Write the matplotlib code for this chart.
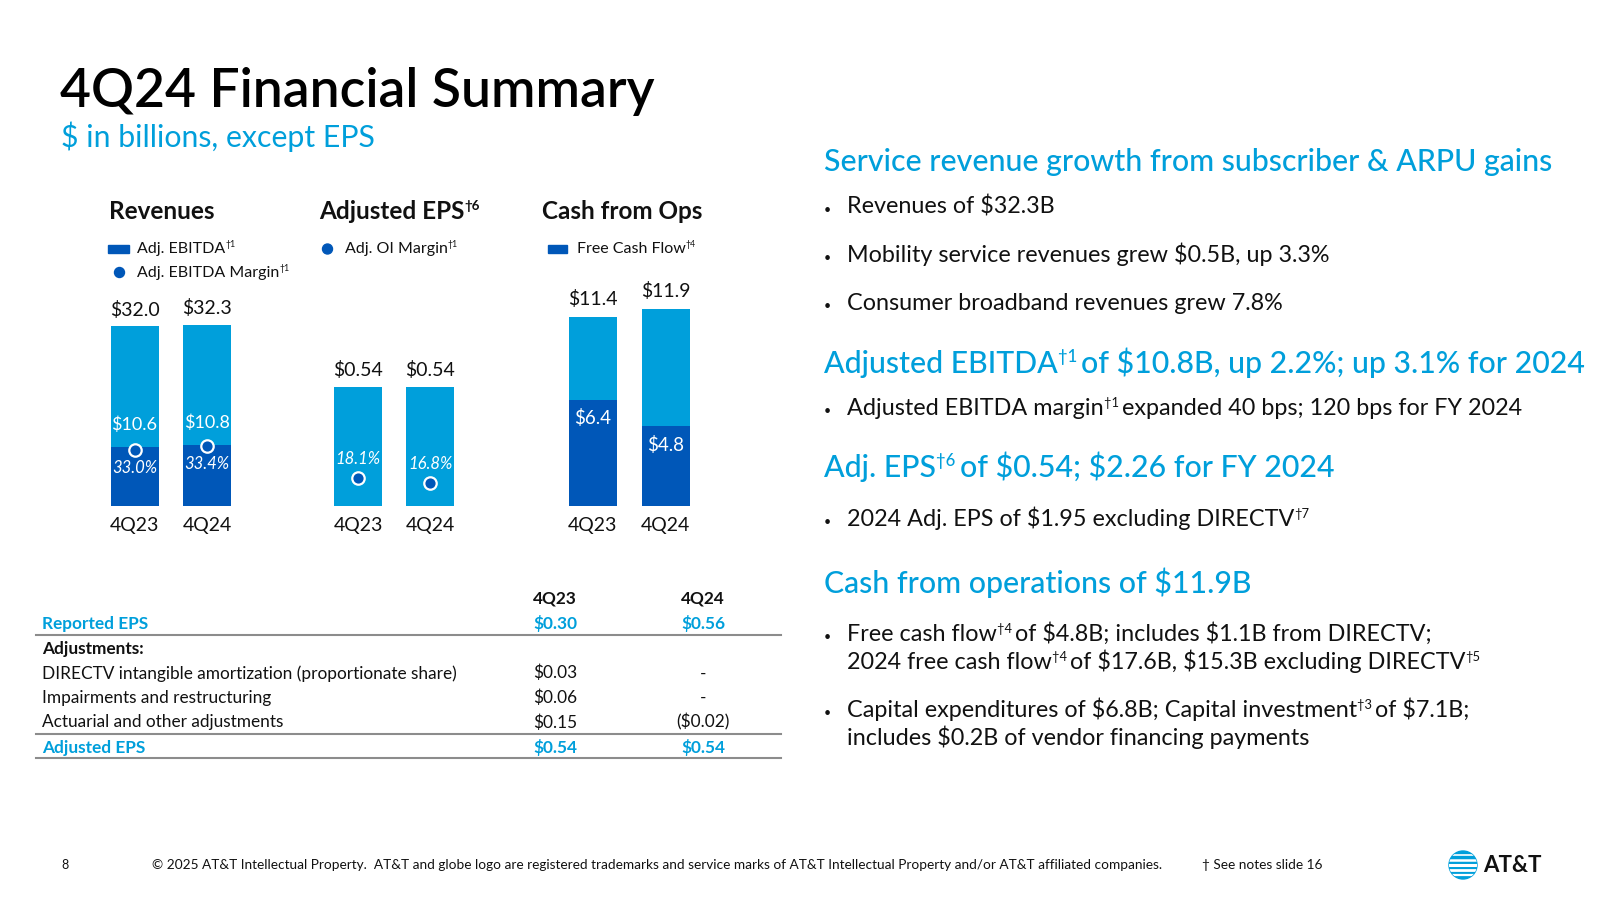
"""4Q24 financial summary slide"""
import matplotlib
matplotlib.use('agg')
import matplotlib.pyplot as plt
from matplotlib.patches import Rectangle, Circle

plt.rcParams['font.family'] = ['Lato', 'DejaVu Sans']

LIGHT = '#009FDB'
DARK = '#0057B8'
INK = '#111111'
RULE = '#8c8c8c'

# chart data
quarters = ['4Q23', '4Q24']
revenues = [32.0, 32.3]
adj_ebitda = [10.6, 10.8]
ebitda_margin = [33.0, 33.4]
adj_eps = [0.54, 0.54]
oi_margin = [18.1, 16.8]
cash_ops = [11.4, 11.9]
free_cash_flow = [6.4, 4.8]

# EPS reconciliation table
table_cols = ['4Q23', '4Q24']
reported_eps = ['$0.30', '$0.56']
adj_labels = ['DIRECTV intangible amortization (proportionate share)',
              'Impairments and restructuring',
              'Actuarial and other adjustments']
adj_values = [['$0.03', '-'], ['$0.06', '-'], ['$0.15', '($0.02)']]
adjusted_eps = ['$0.54', '$0.54']

# right hand commentary: (text, is_superscript) parts
headings = [
    [('Service revenue growth from subscriber & ARPU gains', False)],
    [('Adjusted EBITDA', False), ('†1 ', True), ('of $10.8B, up 2.2%; up 3.1% for 2024', False)],
    [('Adj. EPS', False), ('†6 ', True), ('of $0.54; $2.26 for FY 2024', False)],
    [('Cash from operations of $11.9B', False)],
]
bullets = [
    [[('Revenues of $32.3B', False)]],
    [[('Mobility service revenues grew $0.5B, up 3.3%', False)]],
    [[('Consumer broadband revenues grew 7.8%', False)]],
    [[('Adjusted EBITDA margin', False), ('†1 ', True), ('expanded 40 bps; 120 bps for FY 2024', False)]],
    [[('2024 Adj. EPS of $1.95 excluding DIRECTV', False), ('†7', True)]],
    [[('Free cash flow', False), ('†4 ', True), ('of $4.8B; includes $1.1B from DIRECTV;', False)],
     [('2024 free cash flow', False), ('†4 ', True), ('of $17.6B, $15.3B excluding DIRECTV', False), ('†5', True)]],
    [[('Capital expenditures of $6.8B; Capital investment', False), ('†3 ', True), ('of $7.1B;', False)],
     [('includes $0.2B of vendor financing payments', False)]],
]
heading_y = [171, 373, 477, 593]
bullet_y = [214, 262, 310, 415, 526, 641, 717]

fig = plt.figure(figsize=(16, 9), dpi=100)
renderer = fig.canvas.get_renderer()

# background axes in pixel units, y going down
bg = fig.add_axes([0, 0, 1, 1])
bg.set_xlim(0, 1600)
bg.set_ylim(900, 0)
bg.axis('off')


def text_width(s, size, weight):
    """advance width in pixels, trailing spaces included"""
    t1 = bg.text(0, 0, '|' + s + '|', fontsize=size, weight=weight)
    t2 = bg.text(0, 0, '||', fontsize=size, weight=weight)
    w = t1.get_window_extent(renderer).width - t2.get_window_extent(renderer).width
    t1.remove()
    t2.remove()
    return w


def rich(x, y, parts, size, color, weight='normal', sup_scale=0.55):
    """baseline text with small raised superscripts"""
    for s, sup in parts:
        fs = size * sup_scale if sup else size
        yy = y - size * 0.5 if sup else y
        s = s.replace('$', r'\$')
        bg.text(x, yy, s, fontsize=fs, color=color,
                weight=weight, va='baseline', ha='left')
        x += text_width(s, fs, weight)


def px_axes(left, top, width, height):
    return fig.add_axes([left / 1600, 1 - (top + height) / 900, width / 1600, height / 900])


# Title
bg.text(60, 107, '4Q24 Financial Summary', fontsize=38.5, color='black', weight='semibold')
bg.text(61, 147, '$ in billions, except EPS', fontsize=21.8, color=LIGHT)

# Chart panels
PANEL_TOP = 286
PANEL_H = 220


def panel(cx0, spacing, ymax):
    ax = px_axes(cx0 - 0.6 * spacing, PANEL_TOP, 2.2 * spacing, PANEL_H)
    ax.set_xlim(-0.6, 1.6)
    ax.set_ylim(0, ymax)
    for sp in ax.spines.values():
        sp.set_visible(False)
    ax.set_yticks([])
    ax.set_xticks([0, 1], quarters)
    ax.tick_params(axis='x', length=0, pad=8, labelsize=14, labelcolor=INK)
    ax.set_facecolor('none')
    return ax, 48 / spacing


x = [0, 1]

# Revenues
ax, bw = panel(134.5, 72.5, 39.2)
ax.bar(x, revenues, width=bw, color=LIGHT)
ax.bar(x, adj_ebitda, width=bw, color=DARK)
for i in x:
    ax.annotate(f'${revenues[i]:.1f}', (i, revenues[i]), xytext=(0, 12),
                textcoords='offset points', ha='center', va='center', fontsize=14, color=INK)
    ax.annotate(f'${adj_ebitda[i]:.1f}', (i, adj_ebitda[i]), xytext=(0, 16),
                textcoords='offset points', ha='center', va='center', fontsize=13, color='white')
ax2 = ax.twinx()
ax2.set_ylim(27.5, 49.1)
ax2.axis('off')
ax2.scatter(x, ebitda_margin, s=80, color=DARK, edgecolor='white', linewidth=1.6, zorder=3)
for i in x:
    ax2.annotate(f'{ebitda_margin[i]:.1f}%', (i, ebitda_margin[i]), xytext=(0, -13),
                 textcoords='offset points', ha='center', va='center', fontsize=12,
                 color='white', style='italic')

# Adjusted EPS
ax, bw = panel(358, 72, 0.995)
ax.bar(x, adj_eps, width=bw, color=LIGHT)
for i in x:
    ax.annotate(f'${adj_eps[i]:.2f}', (i, adj_eps[i]), xytext=(0, 12),
                textcoords='offset points', ha='center', va='center', fontsize=14, color=INK)
ax2 = ax.twinx()
ax2.set_ylim(10.87, 66.85)
ax2.axis('off')
ax2.scatter(x, oi_margin, s=80, color=DARK, edgecolor='white', linewidth=1.6, zorder=3)
for i in x:
    ax2.annotate(f'{oi_margin[i]:.1f}%', (i, oi_margin[i]), xytext=(0, 13.5),
                 textcoords='offset points', ha='center', va='center', fontsize=12,
                 color='white', style='italic')

# Cash from Ops
ax, bw = panel(592.5, 73, 13.28)
ax.bar(x, cash_ops, width=bw, color=LIGHT)
ax.bar(x, free_cash_flow, width=bw, color=DARK)
for i in x:
    ax.annotate(f'${cash_ops[i]:.1f}', (i, cash_ops[i]), xytext=(0, 13),
                textcoords='offset points', ha='center', va='center', fontsize=14, color=INK)
    ax.annotate(f'${free_cash_flow[i]:.1f}', (i, free_cash_flow[i]), xytext=(0, -13),
                textcoords='offset points', ha='center', va='center', fontsize=13.5, color='white')

# Panel titles and legends
rich(109, 219, [('Revenues', False)], 17.5, INK, weight='bold')
rich(319, 219, [('Adjusted EPS', False), ('†6', True)], 17.5, INK, weight='bold')
rich(542, 219, [('Cash from Ops', False)], 17.5, INK, weight='bold')

bg.add_patch(Rectangle((108, 244.5), 21, 8, color=DARK))
rich(137, 253, [('Adj. EBITDA', False), ('†1', True)], 11.5, INK)
bg.add_patch(Circle((119.5, 272.5), 5, color=DARK))
rich(137, 277, [('Adj. EBITDA Margin', False), ('†1', True)], 11.5, INK)
bg.add_patch(Circle((327.5, 249), 5, color=DARK))
rich(345, 253, [('Adj. OI Margin', False), ('†1', True)], 11.5, INK)
bg.add_patch(Rectangle((548, 245), 19, 8, color=DARK))
rich(577, 253, [('Free Cash Flow', False), ('†4', True)], 11.5, INK)

# EPS table
COL_X = [555, 703]
TFS = 12.4
for cx, c in zip(COL_X, table_cols):
    bg.text(cx, 604, c, fontsize=TFS, weight='bold', color=INK, ha='center', va='baseline')
bg.text(42, 629, 'Reported EPS', fontsize=TFS, weight='bold', color=LIGHT, va='baseline')
for cx, v in zip(COL_X, reported_eps):
    bg.text(cx, 629, v, fontsize=TFS, weight='bold', color=LIGHT, ha='center', va='baseline')
bg.plot([36, 781], [635, 635], color=RULE, lw=1.5)
bg.text(42, 654, 'Adjustments:', fontsize=TFS, weight='bold', color=INK, va='baseline')
for row_y, lab, vals in zip([678.5, 703, 727.5], adj_labels, adj_values):
    bg.text(42, row_y, lab, fontsize=TFS, color=INK, va='baseline')
    for cx, v in zip(COL_X, vals):
        bg.text(cx, row_y, v, fontsize=TFS, color=INK, ha='center', va='baseline')
bg.plot([36, 781], [734, 734], color=RULE, lw=1.5)
bg.text(42, 753, 'Adjusted EPS', fontsize=TFS, weight='bold', color=LIGHT, va='baseline')
for cx, v in zip(COL_X, adjusted_eps):
    bg.text(cx, 753, v, fontsize=TFS, weight='bold', color=LIGHT, ha='center', va='baseline')
bg.plot([36, 781], [758, 758], color=RULE, lw=1.5)

# Commentary
for hy, parts in zip(heading_y, headings):
    rich(824, hy, parts, 21.8, LIGHT, weight='medium')
for by, lines in zip(bullet_y, bullets):
    bg.text(824, by, '•', fontsize=9, color=INK, va='baseline')
    for k, parts in enumerate(lines):
        rich(847, by + 28 * k, parts, 16.8, INK)

# Footer
bg.text(61, 869, '8', fontsize=9, color=INK, va='baseline')
bg.text(152, 869, '© 2025 AT&T Intellectual Property.  AT&T and globe logo are registered trademarks '
        'and service marks of AT&T Intellectual Property and/or AT&T affiliated companies.',
        fontsize=9.8, color=INK, va='baseline')
bg.text(1202, 869, '† See notes slide 16', fontsize=9.8, color=INK, va='baseline')

# AT&T globe logo
globe = Circle((1463, 865), 14, color=LIGHT)
bg.add_patch(globe)
for gy, gw in [(855, 1.2), (860, 1.8), (865, 2.2), (870, 2.0), (875, 1.6)]:
    ln, = bg.plot([1445, 1481], [gy, gy], color='white', lw=gw)
    ln.set_clip_path(globe)
bg.text(1483, 872, 'AT&T', fontsize=16, weight='bold', color=INK, va='baseline')

plt.savefig('out.png', dpi=100)
plt.close('all')
